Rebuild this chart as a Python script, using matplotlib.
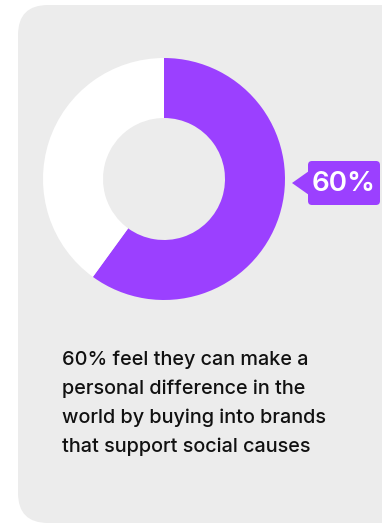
import matplotlib.pyplot as plt
from matplotlib.patches import FancyBboxPatch, Polygon

# data
shares = [60, 40]
share_colors = ['#9b40ff', '#ffffff']
value_label = '60%'
caption_lines = ['60% feel they can make a',
                 'personal difference in the',
                 'world by buying into brands',
                 'that support social causes']

W, H = 382, 525
plt.rcParams['font.family'] = ['Inter', 'DejaVu Sans']

fig = plt.figure(figsize=(W / 100, H / 100), dpi=100)
ax = fig.add_axes([0, 0, 1, 1])
ax.set_xlim(0, W)
ax.set_ylim(0, H)
ax.set_aspect('equal')
ax.axis('off')


def py(y):
    # pixel row (from top) to data y
    return H - y


# grey card behind everything
card = FancyBboxPatch((18, py(523)), 420, 518,
                      boxstyle='round,pad=0,rounding_size=30',
                      fc='#ececec', ec='none', zorder=0)
ax.add_patch(card)

# donut
ax.pie(shares, colors=share_colors, startangle=90, counterclock=False,
       center=(164, py(179)), radius=121, frame=True,
       wedgeprops=dict(width=60, edgecolor='none'))
ax.set_xlim(0, W)
ax.set_ylim(0, H)
ax.axis('off')

# callout with the value
box = FancyBboxPatch((308, py(205)), 72, 44,
                     boxstyle='round,pad=0,rounding_size=4',
                     fc=share_colors[0], ec='none', zorder=3)
ax.add_patch(box)
ax.add_patch(Polygon([(292, py(183)), (309, py(171)), (309, py(195))],
                     closed=True, fc=share_colors[0], ec='none', zorder=3))
ax.text(344, py(184), value_label, color='white', fontsize=20,
        fontweight='semibold', ha='center', va='center', zorder=4)

# caption, one line at a time
for i, line in enumerate(caption_lines):
    ax.text(62, py(365 + 29 * i), line, color='#111111', fontsize=14.3,
            fontweight='medium', ha='left', va='baseline')

fig.savefig('out.png', dpi=100, facecolor='white')
